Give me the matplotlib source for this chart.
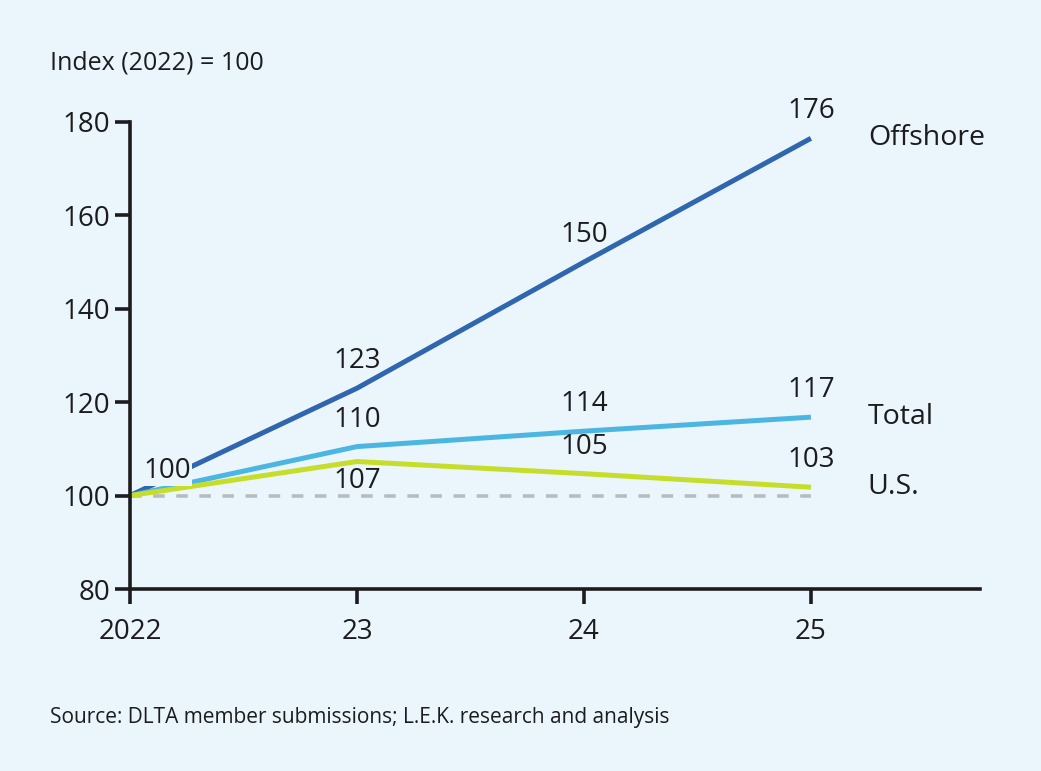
import matplotlib.pyplot as plt

# data
years = ["2022", "23", "24", "25"]
offshore = [100, 123, 150, 176.5]
total = [100, 110.5, 113.8, 116.8]
us = [100, 107.3, 104.7, 101.8]
offshore_labels = ["100", "123", "150", "176"]
total_labels = ["", "110", "114", "117"]
us_labels = ["", "107", "105", "103"]
series_names = ["Offshore", "Total", "U.S."]

bg = "#eaf6fb"
ink = "#1c1c1e"
font = "Open Sans"

fig = plt.figure(figsize=(10.41, 7.71), dpi=100, facecolor=bg)
ax = fig.add_axes([0.1249, 0.236, 0.8165, 0.6058], facecolor=bg)

x = list(range(len(years)))
ax.plot([x[0], x[-1]], [100, 100], color="#b9bcbe", lw=2.6, ls=(0, (3.2, 3.2)), zorder=1)

colors = ["#2f66ae", "#4bb6e2", "#c6de2a"]
series = [offshore, total, us]
labels = [offshore_labels, total_labels, us_labels]
for vals, col, labs, name in zip(series, colors, labels, series_names):
    ax.plot(x, vals, color=col, lw=3.6, solid_capstyle="butt", zorder=2)
    for i, (v, t) in enumerate(zip(vals, labs)):
        if not t or i == 0:
            continue
        dy = 19.5
        if name == "U.S." and i == 1:
            dy = -14
        ax.annotate(t, (x[i], v), xytext=(0, dy), textcoords="offset points",
                    ha="center", va="center", fontsize=20, color=ink,
                    family=font, zorder=4)
    ax.annotate(name, (x[-1], vals[-1]), xytext=(41, 0), textcoords="offset points",
                ha="left", va="center", fontsize=20.5, color=ink, family=font,
                annotation_clip=False)

# the 100 label at the start sits on a background patch over the lines
ax.annotate(offshore_labels[0], (x[0], offshore[0]), xytext=(26.5, 18),
            textcoords="offset points", ha="center", va="center", fontsize=20,
            color=ink, family=font, zorder=5,
            bbox=dict(boxstyle="square,pad=0.05", fc=bg, ec="none"))

ax.set_xlim(0, 3.745)
ax.set_ylim(80, 180)
ax.set_yticks([80, 100, 120, 140, 160, 180])
ax.set_xticks(x)
ax.set_xticklabels(years)
for s in ["top", "right"]:
    ax.spines[s].set_visible(False)
for s in ["left", "bottom"]:
    ax.spines[s].set_linewidth(2.6)
    ax.spines[s].set_color(ink)
ax.tick_params(axis="both", direction="out", length=10.5, width=2.6, color=ink,
               labelsize=20, labelcolor=ink)
ax.tick_params(axis="y", pad=4)
ax.tick_params(axis="x", pad=10)
for lab in ax.get_xticklabels() + ax.get_yticklabels():
    lab.set_family(font)

fig.text(50 / 1041, 1 - 63 / 771, "Index (2022) = 100", fontsize=18, color=ink,
         family=font, ha="left", va="center")
fig.text(50 / 1041, 1 - 718 / 771,
         "Source: DLTA member submissions; L.E.K. research and analysis",
         fontsize=15, color=ink, family=font, ha="left", va="center")

fig.savefig("out.png", dpi=100, facecolor=bg)
